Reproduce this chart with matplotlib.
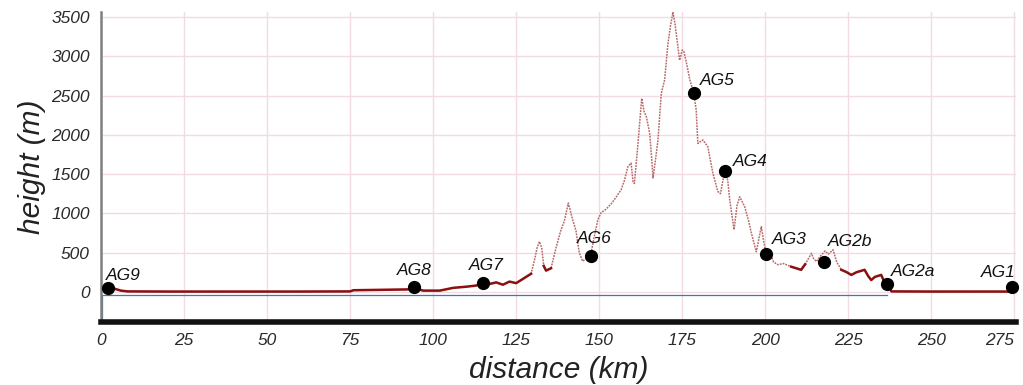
import numpy as np
import matplotlib
matplotlib.use('Agg')
import matplotlib.pyplot as plt

# elevation profile
dist_km = [0, 2, 4, 6, 8, 20, 40, 60, 75, 76, 85, 92, 95, 97, 102, 106, 110, 113, 115, 117,
           119, 121, 123, 125, 126.5, 128, 129.5, 130.5, 131.3, 132, 132.7, 133.3, 134, 135.5, 137, 138.5,
           139.5, 140.7, 141.5, 142, 143, 144, 145, 146, 147.4, 148.5, 149.6, 150.6, 152, 153.6,
           155, 156.6, 157.6, 158.6, 159.6, 160.2, 160.6, 161.6, 162.8, 163.5, 164.2, 165.2, 165.8, 166.2,
           167, 167.7, 168.7, 169.7, 170.7, 171.5, 172.2, 172.8, 173.2, 174.2, 175, 175.5, 176.2, 177.3,
           178.4, 179.2, 179.7, 181.2, 182.7, 184.2, 185.7, 186.5, 187.3, 188, 188.7, 189.3, 190.6, 191.5,
           192.3, 193.8, 195, 195.8, 197.3, 198.8, 199.5, 200.3, 201.5, 202.5, 203.8, 205.5, 207.8, 210.8,
           212, 213.9, 214.6, 215.4, 216.5, 218, 219, 220.4, 221.5, 222.9, 224.5, 225.9, 227.5, 229.9,
           231, 231.9, 233, 234.9, 235.8, 236.7, 238, 250, 265, 275, 276.5]
height_m = [40, 45, 40, 15, 5, 3, 3, 3, 5, 20, 25, 30, 40, 15, 15, 50, 65, 80, 110, 100,
            120, 90, 130, 110, 150, 190, 230, 400, 560, 640, 560, 330, 270, 300, 560, 790,
            900, 1130, 1000, 920, 780, 500, 390, 420, 460, 700, 920, 1010, 1050, 1120,
            1200, 1300, 1420, 1590, 1640, 1400, 1380, 1850, 2465, 2300, 2230, 2020, 1700, 1450,
            1700, 1935, 2530, 2700, 3160, 3400, 3560, 3420, 3290, 2950, 3080, 3060, 2930, 2700,
            2540, 2320, 1890, 1935, 1850, 1515, 1280, 1250, 1430, 1540, 1420, 1170, 790, 1100,
            1210, 1085, 900, 750, 510, 830, 650, 480, 500, 380, 345, 360, 320, 280,
            350, 490, 420, 386, 450, 520, 480, 535, 380, 280, 250, 215, 250, 280,
            200, 150, 190, 215, 130, 100, 5, 3, 3, 3, 3]

# stations
station_names = ['AG9', 'AG8', 'AG7', 'AG6', 'AG5', 'AG4', 'AG3', 'AG2b', 'AG2a', 'AG1']
station_km = [2.1, 94.3, 115, 147.4, 178.4, 188, 200.3, 217.6, 236.7, 274.2]
station_h = [50, 65, 118, 460, 2537, 1545, 480, 386, 102, 60]
label_dx = [15, 0, 3, 4, 24, 25, 23, 26, 26, -13]
label_dy = [12, 16, 17, 17, 12, 9, 15, 20, 12, 15]

dist_km = np.array(dist_km)
height_m = np.array(height_m, dtype=float)

plt.rcParams['font.family'] = ['Liberation Sans', 'DejaVu Sans']

fig = plt.figure(figsize=(10.23, 3.85), dpi=100)
ax = fig.add_axes([0.0987, 0.1636, 0.8945, 0.8052])

ax.set_xlim(0, 275.5)
ax.set_ylim(-385, 3565)
ax.set_xticks(np.arange(0, 276, 25))
ax.set_yticks(np.arange(0, 3501, 500))
ax.grid(True, color='#f0dce2', linewidth=1)
ax.set_axisbelow(True)

# reference line slightly below sea level
ax.plot([0.4, 0.4, 236.5], [-380, -40, -40], color='#3f78ad', linewidth=0.9)

# profile: faint dotted trace + solid dark red where the terrain is low
ax.plot(dist_km, height_m, color='#b86a6a', linewidth=1.1, linestyle=(0, (1.2, 0.7)))
low = np.where(height_m < 360, height_m, np.nan)
ax.plot(dist_km, low, color='#8b1111', linewidth=1.8)

ax.plot(station_km, station_h, 'o', color='black', markersize=8.5, clip_on=False, zorder=5)
for name, x, y, dx, dy in zip(station_names, station_km, station_h, label_dx, label_dy):
    ax.annotate(name, (x, y), xytext=(dx, dy), textcoords='offset pixels',
                ha='center', va='center', fontsize=12.5, style='italic', color='#111111')

for s in ['top', 'right']:
    ax.spines[s].set_visible(False)
ax.spines['left'].set_color('#808080')
ax.spines['left'].set_linewidth(1.8)
ax.spines['bottom'].set_color('#111111')
ax.spines['bottom'].set_linewidth(4)
ax.tick_params(length=0, labelsize=12.5, labelcolor='#2a2a2a')
ax.tick_params(axis='x', pad=8)
ax.tick_params(axis='y', pad=8)
for lab in ax.get_xticklabels() + ax.get_yticklabels():
    lab.set_style('italic')
ax.get_xticklabels()[-1].set_horizontalalignment('right')

ax.set_xlabel('distance (km)', fontsize=21.5, style='italic', color='#222222', labelpad=6)
ax.set_ylabel('height (m)', fontsize=21.5, style='italic', color='#222222', labelpad=4)

fig.savefig('out.png', dpi=100)
